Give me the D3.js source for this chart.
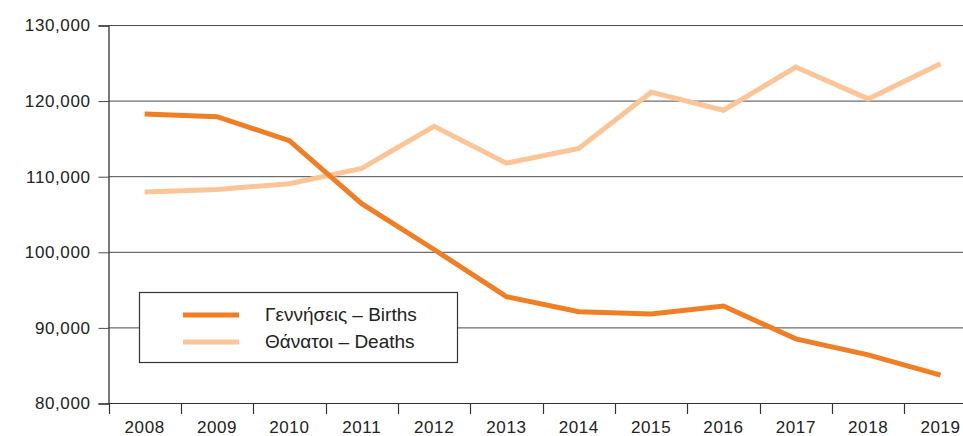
<!DOCTYPE html>
<html>
<head>
<meta charset="utf-8">
<script src="https://cdn.jsdelivr.net/npm/d3@7"></script>
<style>
  body { margin: 0; background: #fff; }
  svg { display: block; font-family: 'Liberation Sans', Arial, sans-serif; }
</style>
</head>
<body>
<svg id="chart" width="963" height="436"></svg>
<script>
var years = ['2008', '2009', '2010', '2011', '2012', '2013', '2014', '2015', '2016', '2017', '2018', '2019'];
var births = [118300, 117930, 114770, 106430, 100370, 94130, 92150, 91850, 92900, 88550, 86440, 83760];
var deaths = [107980, 108320, 109080, 111100, 116670, 111790, 113740, 121180, 118790, 124500, 120290, 124950];
var yTicks = [80000, 90000, 100000, 110000, 120000, 130000];
var seriesNames = ['Γεννήσεις – Births', 'Θάνατοι – Deaths'];
var colors = ['#F07E24', '#FCC597'];

var svg = d3.select('#chart'),
    width = +svg.attr('width');

var x = d3.scaleBand()
    .domain(years)
    .range([108.5, 108.5 + 12 * 72.35]);

var y = d3.scaleLinear()
    .domain([80000, 130000])
    .range([403.5, 25.5]);

// gridlines
svg.append('g')
    .selectAll('line')
    .data(yTicks)
    .enter().append('line')
    .attr('x1', 108.5)
    .attr('x2', width)
    .attr('y1', function(d) { return y(d); })
    .attr('y2', function(d) { return y(d); })
    .attr('stroke', '#4a4a4a')
    .attr('stroke-width', 1);

// y axis
var yAxis = svg.append('g')
    .attr('transform', 'translate(108.5,0)')
    .call(d3.axisLeft(y).tickValues(yTicks).tickSize(10).tickPadding(8).tickFormat(d3.format(',')));
yAxis.select('.domain').attr('stroke', '#333').attr('stroke-width', 1.3);
yAxis.selectAll('.tick line').attr('stroke', '#4a4a4a');
yAxis.selectAll('.tick text')
    .attr('font-size', 17)
    .attr('letter-spacing', '0.6px')
    .attr('fill', '#222')
    .attr('font-family', 'Liberation Sans, Arial, sans-serif');

// x axis: labels centred on bands, ticks at band boundaries
var xAxis = svg.append('g')
    .attr('transform', 'translate(0,403.5)')
    .call(d3.axisBottom(x).tickSize(0).tickPadding(17));
xAxis.select('.domain').remove();
xAxis.selectAll('.tick text')
    .attr('font-size', 17)
    .attr('letter-spacing', '0.6px')
    .attr('fill', '#222')
    .attr('font-family', 'Liberation Sans, Arial, sans-serif');

svg.append('line')
    .attr('x1', 108.5).attr('x2', width)
    .attr('y1', 403.5).attr('y2', 403.5)
    .attr('stroke', '#333').attr('stroke-width', 1.2);

svg.append('g')
    .selectAll('line')
    .data(years)
    .enter().append('line')
    .attr('x1', function(d) { return Math.round(x(d)) + 0.5; })
    .attr('x2', function(d) { return Math.round(x(d)) + 0.5; })
    .attr('y1', 403.5)
    .attr('y2', 414)
    .attr('stroke', '#333')
    .attr('stroke-width', 1.2);

// lines
var line = d3.line()
    .x(function(d, i) { return x(years[i]) + x.bandwidth() / 2; })
    .y(function(d) { return y(d); });

[deaths, births].forEach(function(s, i) {
    svg.append('path')
        .datum(s)
        .attr('fill', 'none')
        .attr('stroke', colors[1 - i])
        .attr('stroke-width', 5)
        .attr('stroke-linejoin', 'miter')
        .attr('d', line);
});

// legend
var legend = svg.append('g');
legend.append('rect')
    .attr('x', 139.5)
    .attr('y', 292.5)
    .attr('width', 318)
    .attr('height', 70)
    .attr('fill', '#fff')
    .attr('stroke', '#333')
    .attr('stroke-width', 1.2);

var items = legend.selectAll('g.item')
    .data(seriesNames)
    .enter().append('g')
    .attr('class', 'item')
    .attr('transform', function(d, i) {
        return 'translate(0,' + (315 + i * 27) + ')';
    });

items.append('line')
    .attr('x1', 183)
    .attr('x2', 239)
    .attr('stroke', function(d, i) { return colors[i]; })
    .attr('stroke-width', 5);

items.append('text')
    .attr('x', 265)
    .attr('dy', '0.32em')
    .attr('font-size', 19)
    .attr('fill', '#222')
    .text(function(d) { return d; });
</script>
</body>
</html>
